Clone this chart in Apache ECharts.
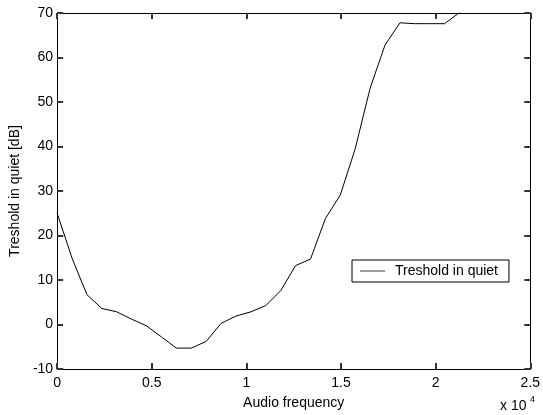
<!DOCTYPE html>
<html>
<head>
<meta charset="utf-8">
<script src="https://cdn.jsdelivr.net/npm/echarts@6/dist/echarts.min.js"></script>
<style>
  html, body { margin: 0; padding: 0; background: #fff; }
</style>
</head>
<body>
<div id="main" style="width: 543px;height:415px;"></div>
<script type="text/javascript">
    // audio frequency [Hz] and threshold in quiet [dB]
    var freqs = [0, 788, 1575, 2363, 3150, 3938, 4725, 5513, 6300, 7088,
        7875, 8663, 9450, 10238, 11025, 11813, 12600, 13388, 14175, 14963,
        15750, 16538, 17325, 18113, 18900, 19688, 20475, 21263];
    var threshold = [25.0, 14.9, 6.7, 3.6, 2.85, 1.2, -0.3, -2.8, -5.3, -5.3,
        -3.8, 0.25, 1.9, 2.85, 4.25, 7.6, 13.25, 14.7, 23.8, 29.1,
        39.5, 53.1, 62.8, 67.8, 67.6, 67.6, 67.6, 70.1];
    var xTicks = [0, 0.5, 1, 1.5, 2, 2.5];
    var yTicks = [-10, 0, 10, 20, 30, 40, 50, 60, 70];

    var font = "'Liberation Sans', Arial, sans-serif";
    var points = freqs.map(function (f, i) { return [f, threshold[i]]; });

    function lineAxis() {
        return { show: true, onZero: false, lineStyle: { color: '#000', width: 1 } };
    }
    function tickIn() {
        return { show: true, inside: true, length: 6, lineStyle: { color: '#333', width: 2 } };
    }
    // empty labels on the top and right axes, only ticks there
    function noLabel() {
        return { show: true, formatter: function () { return ''; } };
    }

    var myChart = echarts.init(document.getElementById('main'));
    var option = {
        animation: false,
        backgroundColor: '#fff',
        grid: { left: 52, right: 9, top: 13, bottom: 43 },
        legend: {
            data: ['Treshold in quiet'],
            left: 352, top: 260,
            orient: 'horizontal',
            backgroundColor: '#fff',
            borderColor: '#000', borderWidth: 1, borderRadius: 0,
            padding: [4, 11, 4, 8],
            icon: 'rect',
            itemWidth: 25, itemHeight: 1,
            itemStyle: { color: '#333' },
            textStyle: { fontSize: 14, color: '#000', fontFamily: font, padding: [0, 0, 0, 5] }
        },
        xAxis: [{
            type: 'value', position: 'bottom',
            min: 0, max: 25000, interval: 5000,
            axisLine: lineAxis(), axisTick: tickIn(), splitLine: { show: false },
            axisLabel: {
                color: '#000', fontSize: 14, margin: 7, fontFamily: font,
                formatter: function (v) { return String(xTicks[Math.round(v / 5000)]); }
            },
            name: 'Audio frequency', nameLocation: 'middle', nameGap: 27,
            nameTextStyle: { color: '#000', fontSize: 14, fontFamily: font }
        }, {
            type: 'value', position: 'top',
            min: 0, max: 25000, interval: 5000,
            axisLine: lineAxis(), axisTick: tickIn(), splitLine: { show: false },
            axisLabel: noLabel()
        }],
        yAxis: [{
            type: 'value', position: 'left',
            min: yTicks[0], max: yTicks[yTicks.length - 1], interval: 10,
            axisLine: lineAxis(), axisTick: tickIn(), splitLine: { show: false },
            axisLabel: { color: '#000', fontSize: 14, margin: 4, fontFamily: font },
            name: 'Treshold in quiet [dB]', nameLocation: 'middle', nameGap: 31,
            nameRotate: 90,
            nameTextStyle: { color: '#000', fontSize: 14, fontFamily: font }
        }, {
            type: 'value', position: 'right',
            min: yTicks[0], max: yTicks[yTicks.length - 1], interval: 10,
            axisLine: lineAxis(), axisTick: tickIn(), splitLine: { show: false },
            axisLabel: noLabel()
        }],
        graphic: [
            { type: 'text', left: 500, top: 399, style: { text: 'x 10', fill: '#000', font: '14px ' + font } },
            { type: 'text', left: 530, top: 395, style: { text: '4', fill: '#000', font: '9px ' + font } }
        ],
        series: [{
            name: 'Treshold in quiet',
            type: 'line',
            xAxisIndex: 0, yAxisIndex: 0,
            data: points,
            symbol: 'none',
            lineStyle: { color: '#000', width: 1 }
        }]
    };
    myChart.setOption(option);
</script>
</body>
</html>
